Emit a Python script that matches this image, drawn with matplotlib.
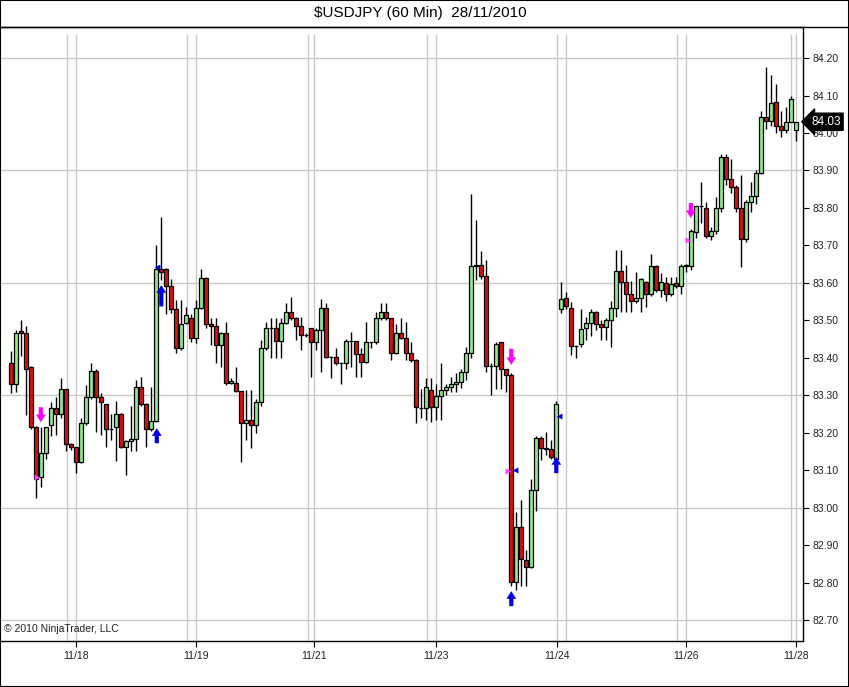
import numpy as np
import matplotlib.pyplot as plt
from matplotlib.lines import Line2D
from matplotlib.patches import Rectangle

plt.rcParams['font.family'] = ['Liberation Sans', 'DejaVu Sans']

title = r"\$USDJPY (60 Min)  28/11/2010"

# hourly bars
opens = [83.385, 83.330, 83.472, 83.465, 83.375, 83.215, 83.083, 83.145, 83.220, 83.265,
         83.250, 83.316, 83.170, 83.161, 83.123, 83.225, 83.295, 83.365, 83.295, 83.276,
         83.209, 83.215, 83.250, 83.163, 83.179, 83.183, 83.323, 83.276, 83.209, 83.231,
         83.636, 83.636, 83.591, 83.529, 83.425, 83.493, 83.505, 83.454, 83.534, 83.614,
         83.489, 83.484, 83.435, 83.465, 83.334, 83.334, 83.311, 83.226, 83.235, 83.220,
         83.282, 83.425, 83.480, 83.480, 83.444, 83.493, 83.523, 83.507, 83.484, 83.460,
         83.480, 83.441, 83.475, 83.534, 83.402, 83.402, 83.385, 83.385, 83.444, 83.444,
         83.410, 83.389, 83.441, 83.441, 83.505, 83.523, 83.505, 83.414, 83.465, 83.454,
         83.414, 83.395, 83.265, 83.265, 83.315, 83.269, 83.298, 83.315, 83.322, 83.329,
         83.335, 83.363, 83.413, 83.645, 83.649, 83.619, 83.379, 83.379, 83.442, 83.369,
         83.355, 82.802, 82.949, 82.860, 82.842, 83.048, 83.185, 83.160, 83.156, 83.129,
         83.529, 83.560, 83.534, 83.431, 83.436, 83.480, 83.494, 83.523, 83.490, 83.481,
         83.500, 83.534, 83.631, 83.603, 83.569, 83.551, 83.560, 83.603, 83.569, 83.644,
         83.580, 83.600, 83.570, 83.600, 83.592, 83.649, 83.644, 83.735, 83.805, 83.800,
         83.725, 83.739, 83.800, 83.935, 83.877, 83.855, 83.800, 83.716, 83.815, 83.832,
         83.894, 84.043, 84.032, 84.083, 84.019, 84.009, 84.030, 84.009]
highs = [83.417, 83.475, 83.500, 83.486, 83.378, 83.218, 83.216, 83.216, 83.283, 83.296,
         83.345, 83.316, 83.172, 83.163, 83.239, 83.328, 83.387, 83.370, 83.305, 83.276,
         83.250, 83.284, 83.252, 83.180, 83.270, 83.341, 83.350, 83.278, 83.323, 83.700,
         83.776, 83.640, 83.610, 83.554, 83.554, 83.536, 83.518, 83.554, 83.636, 83.616,
         83.505, 83.505, 83.470, 83.496, 83.345, 83.376, 83.311, 83.315, 83.315, 83.290,
         83.447, 83.496, 83.505, 83.505, 83.505, 83.545, 83.562, 83.510, 83.510, 83.465,
         83.480, 83.480, 83.556, 83.545, 83.405, 83.425, 83.388, 83.451, 83.469, 83.446,
         83.425, 83.496, 83.443, 83.523, 83.545, 83.545, 83.507, 83.491, 83.505, 83.496,
         83.443, 83.397, 83.318, 83.345, 83.345, 83.329, 83.385, 83.330, 83.350, 83.360,
         83.370, 83.430, 83.837, 83.769, 83.684, 83.660, 83.385, 83.442, 83.443, 83.370,
         83.360, 82.989, 83.020, 82.887, 83.076, 83.190, 83.190, 83.201, 83.180, 83.285,
         83.601, 83.575, 83.550, 83.433, 83.529, 83.508, 83.531, 83.525, 83.500, 83.505,
         83.552, 83.689, 83.689, 83.649, 83.604, 83.630, 83.612, 83.606, 83.676, 83.649,
         83.625, 83.616, 83.616, 83.616, 83.650, 83.650, 83.745, 83.806, 83.870, 83.815,
         83.750, 83.830, 83.945, 83.945, 83.930, 83.860, 83.888, 83.820, 83.870, 83.900,
         84.060, 84.177, 84.154, 84.130, 84.060, 84.070, 84.100, 84.030]
lows = [83.305, 83.310, 83.406, 83.248, 83.210, 83.025, 83.056, 83.130, 83.190, 83.194,
        83.240, 83.150, 83.155, 83.092, 83.120, 83.220, 83.290, 83.203, 83.194, 83.163,
        83.180, 83.125, 83.160, 83.087, 83.150, 83.150, 83.270, 83.163, 83.205, 83.228,
        83.607, 83.518, 83.520, 83.413, 83.420, 83.490, 83.443, 83.440, 83.530, 83.480,
        83.434, 83.385, 83.376, 83.327, 83.330, 83.310, 83.122, 83.180, 83.160, 83.198,
        83.270, 83.420, 83.400, 83.400, 83.400, 83.490, 83.500, 83.447, 83.420, 83.455,
        83.349, 83.420, 83.362, 83.400, 83.345, 83.380, 83.329, 83.371, 83.375, 83.349,
        83.349, 83.385, 83.425, 83.437, 83.500, 83.500, 83.395, 83.410, 83.450, 83.395,
        83.390, 83.225, 83.238, 83.233, 83.229, 83.233, 83.233, 83.300, 83.310, 83.310,
        83.320, 83.340, 83.400, 83.607, 83.610, 83.362, 83.300, 83.318, 83.318, 83.310,
        82.790, 82.780, 82.790, 82.790, 82.840, 82.990, 83.127, 83.140, 83.130, 83.122,
        83.520, 83.530, 83.407, 83.400, 83.430, 83.447, 83.458, 83.474, 83.447, 83.447,
        83.429, 83.510, 83.523, 83.523, 83.523, 83.545, 83.523, 83.536, 83.565, 83.575,
        83.563, 83.551, 83.565, 83.585, 83.570, 83.630, 83.635, 83.720, 83.760, 83.720,
        83.715, 83.730, 83.790, 83.860, 83.840, 83.790, 83.643, 83.710, 83.790, 83.810,
        83.890, 84.010, 84.020, 84.000, 83.990, 84.000, 84.030, 83.980]
closes = [83.330, 83.465, 83.465, 83.369, 83.215, 83.076, 83.145, 83.215, 83.265, 83.250,
          83.316, 83.170, 83.161, 83.123, 83.225, 83.295, 83.365, 83.295, 83.281, 83.209,
          83.209, 83.250, 83.163, 83.179, 83.183, 83.323, 83.276, 83.209, 83.230, 83.636,
          83.629, 83.591, 83.529, 83.425, 83.489, 83.515, 83.454, 83.534, 83.614, 83.489,
          83.484, 83.435, 83.465, 83.334, 83.339, 83.311, 83.226, 83.235, 83.220, 83.282,
          83.425, 83.480, 83.480, 83.444, 83.493, 83.523, 83.507, 83.484, 83.460, 83.460,
          83.441, 83.475, 83.534, 83.402, 83.402, 83.385, 83.385, 83.444, 83.444, 83.410,
          83.389, 83.441, 83.441, 83.505, 83.523, 83.505, 83.414, 83.465, 83.454, 83.414,
          83.395, 83.269, 83.265, 83.321, 83.269, 83.298, 83.315, 83.322, 83.329, 83.335,
          83.363, 83.413, 83.645, 83.649, 83.619, 83.379, 83.379, 83.436, 83.369, 83.355,
          82.802, 82.949, 82.864, 82.842, 83.048, 83.185, 83.160, 83.156, 83.134, 83.276,
          83.556, 83.539, 83.431, 83.431, 83.476, 83.494, 83.523, 83.490, 83.481, 83.500,
          83.534, 83.631, 83.601, 83.569, 83.551, 83.560, 83.609, 83.569, 83.644, 83.580,
          83.603, 83.570, 83.596, 83.592, 83.644, 83.644, 83.739, 83.805, 83.806, 83.725,
          83.739, 83.800, 83.935, 83.877, 83.855, 83.800, 83.716, 83.815, 83.832, 83.894,
          84.043, 84.032, 84.080, 84.019, 84.009, 84.030, 84.090, 84.030]

date_labels = ['11/18', '11/19', '11/21', '11/23', '11/24', '11/26', '11/28']
date_bars = [12.9, 36.9, 60.5, 84.9, 109.1, 134.9, 156.9]
session_bars = [11.1, 35.1, 59.3, 83.1, 110.9, 133.1, 156.0]
price_ticks = np.round(np.arange(82.70, 84.201, 0.10), 2)
last_price = 84.03

# strategy markers: (bar, tail price, tip price)
long_arrows = [(29.1, 83.172, 83.212), (30.0, 83.537, 83.594), (100.0, 82.737, 82.777),
               (109.0, 83.092, 83.135)]
short_arrows = [(5.9, 83.268, 83.228), (100.0, 83.424, 83.381), (135.9, 83.813, 83.773)]
exit_short = [(5.1, 83.083), (99.4, 83.097), (135.4, 83.714)]
exit_long = [(29.2, 83.643), (100.7, 83.100), (109.5, 83.245)]

green = '#8fe68f'
red = '#dd1010'
arrow_style = 'simple,head_width=0.7,head_length=0.55,tail_width=0.3'

fig = plt.figure(figsize=(8.49, 6.87), dpi=100)
ax = fig.add_axes([1/849, 46/687, 802/849, 614/687])

x = np.arange(len(opens))
o = np.array(opens)
h = np.array(highs)
l = np.array(lows)
c = np.array(closes)
up = c >= o

for p in price_ticks[::3]:
    ax.axhline(p, color='#c8c8c8', lw=1, zorder=0)
for b in session_bars + date_bars:
    ax.axvline(b, ymax=0.987, color='#c8c8c8', lw=1, zorder=0)

ax.vlines(x, l, h, color='black', lw=1, zorder=2)
ax.bar(x, np.abs(c - o), bottom=np.minimum(o, c), width=0.8,
       color=np.where(up, green, red), edgecolor='black', linewidth=0.9, zorder=3)

for bx, tail, tip in long_arrows:
    ax.annotate('', xy=(bx, tip), xytext=(bx, tail),
                arrowprops=dict(arrowstyle=arrow_style, color='#0000e6', lw=0,
                                mutation_scale=10, shrinkA=0, shrinkB=0), zorder=5)
for bx, tail, tip in short_arrows:
    ax.annotate('', xy=(bx, tip), xytext=(bx, tail),
                arrowprops=dict(arrowstyle=arrow_style, color='#ff00ff', lw=0,
                                mutation_scale=10, shrinkA=0, shrinkB=0), zorder=5)
ax.scatter([e[0] for e in exit_short], [e[1] for e in exit_short], marker='>', s=18,
           color='#ff40ff', zorder=5, linewidths=0)
ax.scatter([e[0] for e in exit_long], [e[1] for e in exit_long], marker='<', s=18,
           color='#0000e6', zorder=5, linewidths=0)

ax.set_xlim(-2.06, 158.34)
ax.set_ylim(82.644, 84.283)

ax.set_xticks(date_bars, date_labels)
ax.yaxis.tick_right()
ax.set_yticks(price_ticks, [f'{p:.2f}' for p in price_ticks])
ax.tick_params(axis='x', length=4, width=0.8, labelsize=7.5, pad=3, labelcolor='#222222')
ax.tick_params(axis='y', length=4, width=0.8, labelsize=7.5, pad=3, labelcolor='#222222')
ax.spines['left'].set_visible(False)
for s in ['top', 'right', 'bottom']:
    ax.spines[s].set_linewidth(1)

ax.text(1.01, last_price, f'{last_price:.2f}', transform=ax.get_yaxis_transform(),
        ha='left', va='center', fontsize=8.5, color='white',
        bbox=dict(boxstyle='larrow,pad=0.22', fc='black', ec='black'), zorder=6, clip_on=False)

ax.text(3/802, 0.012, '\u00a9 2010 NinjaTrader, LLC', transform=ax.transAxes,
        ha='left', va='bottom', fontsize=7.5, color='#222222')

fig.text(0.495, 1 - 13/687, title, ha='center', va='center', fontsize=11)
fig.add_artist(Line2D([0, 1], [1 - 27/687, 1 - 27/687], transform=fig.transFigure,
                      color='black', lw=1))
fig.add_artist(Rectangle((0, 0), 1, 1, transform=fig.transFigure, fill=False,
                         ec='black', lw=1.5))

fig.savefig('out.png', dpi=100)
